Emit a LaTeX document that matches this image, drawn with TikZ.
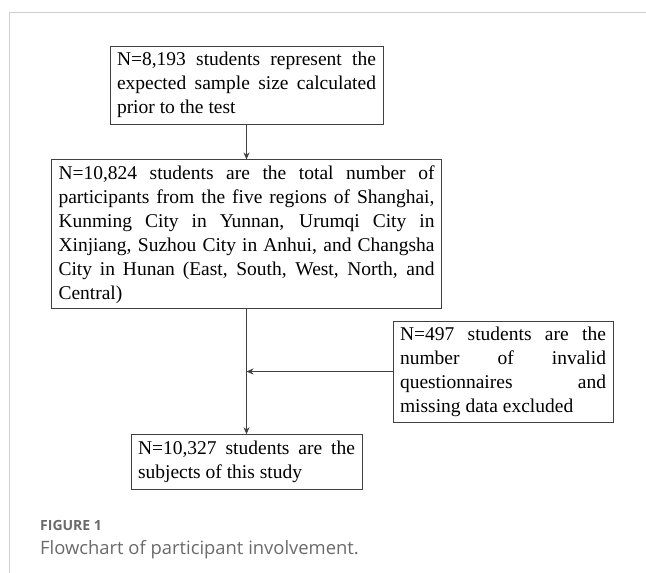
\documentclass[tikz,border=0pt]{standalone}
\usepackage{fontspec}
\setmainfont{Liberation Serif}
\newfontfamily\captionfont{Open Sans}
\usepackage{tikz}
\usetikzlibrary{positioning, arrows.meta}
\definecolor{framegray}{HTML}{CFCFCF}
\definecolor{captiongray}{HTML}{6A6A6A}
\tolerance=10000

\begin{document}
\begin{tikzpicture}[x=1pt, y=1pt, node distance=35pt, >={Stealth[length=7pt, width=6pt]}]
  \tikzstyle{flowbox}=[draw=black!75, line width=0.8pt, inner xsep=7pt, inner ysep=0pt, align=justify, font=\fontsize{19.5}{24}\selectfont];
  \tikzstyle{flowline}=[->, draw=black!75, line width=0.8pt];
  \useasboundingbox (0,0) rectangle (646,-573);
  \draw[framegray, line width=1pt] (9,-573) -- (9,-12) -- (646,-12);

  \node [flowbox, text width=259pt, minimum height=78pt] at (246.5,-85) (Expected)
    {N=8,193 students represent the\linebreak expected sample size calculated\linebreak prior to the test};
  \node [flowbox, text width=376pt, minimum height=149pt, below=of Expected] (Total)
    {N=10,824 students are the total number of\linebreak participants from the five regions of Shanghai,\linebreak Kunming City in Yunnan, Urumqi City in\linebreak Xinjiang, Suzhou City in Anhui, and Changsha\linebreak City in Hunan (East, South, West, North, and\linebreak Central)};
  \node [flowbox, text width=217pt, minimum height=55pt, below=125pt of Total] (Final)
    {N=10,327 students are the\linebreak subjects of this study};
  \node [flowbox, text width=206pt, minimum height=101pt] at (503,-371.5) (Excluded)
    {N=497 students are the\linebreak number of invalid\linebreak questionnaires and\linebreak missing data excluded};

  \draw[flowline] (Expected) -- (Total);
  \draw[flowline] (Total) -- (Final);
  \draw[flowline] (Excluded.west) -- (Excluded.west -| Total.south);

  % caption
  \node [anchor=base west, inner sep=0pt, text=captiongray, font=\captionfont\bfseries\fontsize{14}{16}\selectfont] at (40,-530) (FigLabel) {FIGURE 1};
  \node [anchor=base west, inner sep=0pt, text=captiongray, font=\captionfont\fontsize{18.4}{22}\selectfont] at (40,-554) (FigText) {Flowchart of participant involvement.};
\end{tikzpicture}
\end{document}
